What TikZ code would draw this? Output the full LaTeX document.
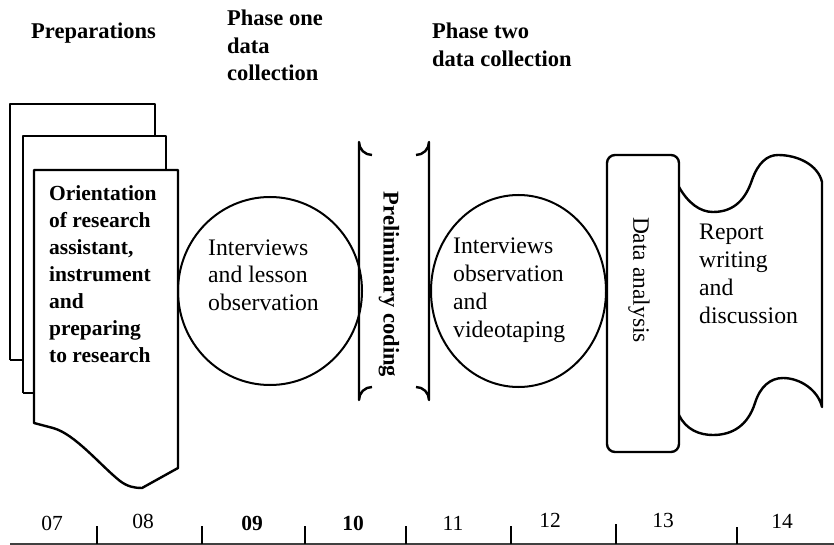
\documentclass[tikz,border=0pt]{standalone}
\usepackage{fontspec}
\setmainfont{Liberation Serif}
\usetikzlibrary{shapes.geometric}
\begin{document}
\begin{tikzpicture}[x=1pt,y=-1pt,
  outline/.style={line width=2.4pt, line join=round},
  thinline/.style={line width=2pt},
  headtext/.style={anchor=base west, align=left, inner sep=0pt,
    font=\bfseries\fontsize{22.5}{27.5}\selectfont},
  bodytext/.style={anchor=base west, align=left, inner sep=0pt,
    font=\fontsize{23.7}{27.5}\selectfont},
  boldbody/.style={anchor=base west, align=left, inner sep=0pt,
    font=\bfseries\fontsize{21.5}{27}\selectfont},
  roundshape/.style={draw, ellipse, thinline, inner sep=0pt},
  tick/.style={line width=2pt},
  yearlabel/.style={inner sep=0pt, font=\fontsize{21.5}{24}\selectfont}]
\useasboundingbox (0,0) rectangle (834,545);

% phase headings (multi-line nodes are placed by the baseline of their last line)
\node[headtext] (hprep) at (31,39) {Preparations};
\node[headtext] (hone) at (227,81) {Phase one\\data\\collection};
\node[headtext, font=\bfseries\fontsize{22.5}{28}\selectfont] (htwo) at (432,67) {Phase two\\data collection};

% stacked documents
\draw[outline] (10,360) -- (10,104) -- (155,104) -- (155,136);
\draw[outline] (23,393) -- (23,136) -- (166,136) -- (166,170);
\draw[outline] (34,423) -- (34,170) -- (178,170) -- (178,468) -- (142,488)
  .. controls (135,488) and (128,487) .. (120,481)
  .. controls (100,465) and (75,434) .. (53,428) -- cycle;
\draw[outline] (10,360) -- (23,360);
\draw[outline] (23,393) -- (34,393);
\node[boldbody] (orient) at (49,362) {Orientation\\of research\\assistant,\\instrument\\and\\preparing\\to research};

% first collection round
\node[roundshape, minimum width=184pt, minimum height=188pt] (round1) at (270,291) {};
\node[bodytext] (round1txt) at (208,310) {Interviews\\and lesson\\observation};

% preliminary coding bracket
\draw[outline] (372,155) arc[start angle=90, end angle=180, radius=13] -- (359,400)
  arc[start angle=180, end angle=270, radius=13];
\draw[outline] (416,155) arc[start angle=90, end angle=0, radius=13] -- (429,400)
  arc[start angle=0, end angle=-90, radius=13];
\node[rotate=-90, inner sep=0pt, font=\bfseries\fontsize{22.5}{27}\selectfont] (coding) at (389,284.5) {Preliminary coding};

% second collection round
\node[roundshape, minimum width=175pt, minimum height=192pt] (round2) at (518.5,291) {};
\node[bodytext, font=\fontsize{23.7}{28}\selectfont] (round2txt) at (453,337) {Interviews\\observation\\and\\videotaping};

% report tape
\draw[outline] (679,187) .. controls (688,203) and (700,212) .. (713,212)
  .. controls (735,212) and (746,198) .. (752,180)
  .. controls (758,163) and (767,155) .. (778,155)
  .. controls (798,155) and (818,165) .. (822,182)
  -- (822,407)
  .. controls (818,390) and (800,378) .. (783,378)
  .. controls (770,378) and (760,387) .. (755,403)
  .. controls (748,425) and (733,435) .. (713,435)
  .. controls (700,435) and (686,430) .. (679,415);
\node[bodytext, font=\fontsize{23.7}{27.7}\selectfont] (report) at (699,323) {Report\\writing\\and\\discussion};

% data analysis box
\node[draw, outline, rounded corners=8pt, fill=white, minimum width=72pt, minimum height=297pt, inner sep=0pt] (analysis) at (643,303.5) {};
\node[rotate=-90, inner sep=0pt, font=\fontsize{23.5}{27}\selectfont] (analysistxt) at (639,280) {Data analysis};

% month axis
\coordinate (axl) at (10,544);
\coordinate (axr) at (834,544);
\draw[line width=1.3pt, black!75] (axl) -- (axr);
\foreach \tx/\tt [count=\i] in {97/526,202/526,305/526,406/526,511/526,616/524,737/527}{
  \coordinate (tk\i) at (\tx,544);
  \draw[tick] (tk\i) -- (\tx,\tt);
}
\node[yearlabel] (m07) at (52,523) {07};
\node[yearlabel] (m08) at (143,521) {08};
\node[yearlabel, font=\bfseries\fontsize{21.5}{24}\selectfont] (m09) at (252,523) {09};
\node[yearlabel, font=\bfseries\fontsize{21.5}{24}\selectfont] (m10) at (353,523) {10};
\node[yearlabel] (m11) at (453,523) {11};
\node[yearlabel] (m12) at (550,520) {12};
\node[yearlabel] (m13) at (663,520) {13};
\node[yearlabel] (m14) at (782,521) {14};
\end{tikzpicture}
\end{document}
